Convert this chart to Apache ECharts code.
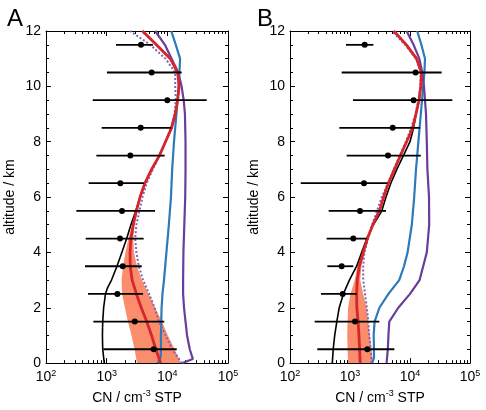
<!DOCTYPE html>
<html><head><meta charset="utf-8">
<script src="https://cdn.jsdelivr.net/npm/echarts@6/dist/echarts.min.js"></script>
<style>html,body{margin:0;padding:0;background:#fff}#c{width:486px;height:410px}</style>
</head><body><div id="c"></div>
<script>
// ---------- data ----------
const altStd = [0,0.5,1,1.5,2,2.5,3,3.5,4,4.5,5,5.5,6,6.5,7,7.5,8,8.5,9,9.5,10,10.5,11,11.5,12];

// Panel A
const redA = [7760,6460,5500,4570,3720,3090,2630,2450,2430,2510,2750,3090,3550,4270,5500,7410,9330,11750,13490,14790,15670,14790,11220,6610,3890];
const altBlackA = [0,0.5,1,1.5,2,2.5,2.7,3,3.5,4,4.5,5,5.5,6,6.5,7,7.5,8,8.5,9,9.5,10,10.5,11,11.5,12];
const blackA = [912,861,851,861,891,955,1023,1202,1479,1778,2138,2512,3020,3550,4270,5500,7410,9330,11750,13490,14790,15670,14790,11220,6610,3890];
const altBlueA = [0,0.2,0.5,1,1.5,2,2.5,3,4,5,6,7,8,9,10,10.5,11,11.5,12];
const blueA = [6920,7760,7850,7850,7940,8040,8320,8810,9660,10590,11480,12020,12880,14130,15310,15850,16220,13800,11610];
const altPurpleA = [0,0.15,0.5,1,1.5,2,2.5,3,4,5,6,7,8,9,9.5,10,10.5,11,11.5,12];
const purpleA = [17780,26300,23440,21130,19950,18840,18200,18200,18410,19050,19720,19950,19950,19500,18620,17180,15140,11750,9120,6310];
const dottedA = [17380,12020,9330,7240,6170,5010,3980,3390,3090,2950,3090,3470,3890,4570,5750,7410,9330,11480,13180,13800,13490,13490,9330,5250,2430];
const altBandA = [0,0.5,1,1.5,2,2.5,3,3.5,4,4.5,5,5.3];
const bandLowA = [3160,2880,2570,2240,2000,1800,1760,1860,2040,2290,2630,2950];
const bandHighA = [16600,13180,10230,8130,6310,4900,3800,3160,2820,2750,2880,2950];

const altPts = [11.5,10.5,9.5,8.5,7.5,6.5,5.5,4.5,3.5,2.5,1.5,0.5];
const ptMedA = [3680,5520,10000,3640,2455,1680,1790,1660,1840,1500,2900,5960];
const ptLowA = [1425,1010,589,828,676,505,316,451,439,492,603,881];
const ptHighA = [5800,17200,44500,11700,9040,4120,6270,4070,3780,3980,8910,14300];

// Panel B
const redB = [1480,1445,1410,1365,1300,1290,1320,1430,1660,1950,2400,3090,3630,4370,5500,6920,8790,11070,12590,14130,15140,15490,12880,8710,5370];
const blackB = [507,525,556,603,661,776,977,1288,1567,1905,2455,3390,3980,4790,6030,7760,10000,11480,12590,14130,15140,15490,12880,8710,5370];
const altBlueB = [0,0.2,0.5,1,1.5,2,2.5,3,3.5,4,5,6,7,8,9,10,10.5,11,11.5,12];
const blueB = [2340,2510,2510,2480,2570,3090,4370,6610,7940,9120,10720,11750,12590,13800,15140,16600,17380,17780,15490,13180];
const altPurpleB = [0,0.5,1,1.5,2,2.5,3,3.5,4,5,6,7,8,9,10,10.5,11,11.5,12];
const purpleB = [4070,4270,4370,4520,6380,10000,14450,16600,19050,20890,20750,19500,19050,18490,17100,16030,14320,11480,8790];
const dottedB = [2290,2210,2090,2020,1910,1780,1660,1660,1740,2000,2340,2820,3390,4270,5370,6760,8510,10470,12300,13800,14790,15140,12590,8320,5010];
const altBandB = [0,0.5,1,1.5,2,2.5,3,3.5,4,4.2];
const bandLowB = [930,910,900,910,930,1020,1200,1320,1560,1700];
const bandHighB = [2400,2290,2140,2000,1900,1660,1480,1550,1750,1700];

const ptMedB = [1758,12400,11500,5140,4300,1710,1468,1136,727,755,1212,1945];
const ptLowB = [858,727,1122,664,880,151,441,408,419,329,258,285];
const ptHighB = [2450,33700,50800,14700,15100,4190,3980,1897,1136,1291,3080,5480];

const majorTicks = [100,1000,10000,100000];
const minorTicks = [200,300,400,500,600,700,800,900,2000,3000,4000,5000,6000,7000,8000,9000,20000,30000,40000,50000,60000,70000,80000,90000];
const panelLabels = ['A','B'];

// ---------- colors ----------
const C = {red:'#d7262b', black:'#000', blue:'#2b7bba', purple:'#6a3d9a', dotted:'#8462b5', band:'#f98d6c'};
const FONT = 'Liberation Sans';

function pairs(xs, ys){ return xs.map((x,i)=>[x, ys[i]]); }

function xAxes(gi){
  const base = {type:'log', logBase:10, min:100, max:100000, gridIndex:gi,
    splitLine:{show:false}, minorSplitLine:{show:false}};
  const line = {show:true, onZero:false, lineStyle:{color:'#000', width:1}};
  return [
    Object.assign({}, base, {position:'bottom', axisLine:line,
      axisTick:{inside:true, length:5, customValues:majorTicks, lineStyle:{color:'#000'}},
      axisLabel:{customValues:majorTicks, color:'#000', fontSize:14, fontFamily:FONT, margin:6,
        formatter:v=>'10{s|'+Math.round(Math.log10(v))+'}',
        rich:{s:{fontSize:9, fontFamily:FONT, color:'#000', padding:[0,0,8,0]}}},
      name:'CN / cm{s|-3} STP', nameLocation:'middle', nameGap:25,
      nameTextStyle:{fontSize:14, color:'#000', fontFamily:FONT, verticalAlign:'top',
        rich:{s:{fontSize:9, fontFamily:FONT, color:'#000', padding:[0,0,8,0]}}}}),
    Object.assign({}, base, {position:'top', axisLine:line,
      axisTick:{inside:true, length:5, customValues:majorTicks, lineStyle:{color:'#000'}},
      axisLabel:{show:false}}),
    Object.assign({}, base, {position:'bottom', axisLine:{show:false, onZero:false},
      axisTick:{inside:true, length:3, customValues:minorTicks, lineStyle:{color:'#000'}},
      axisLabel:{show:false}}),
    Object.assign({}, base, {position:'top', axisLine:{show:false, onZero:false},
      axisTick:{inside:true, length:3, customValues:minorTicks, lineStyle:{color:'#000'}},
      axisLabel:{show:false}})
  ];
}
function yAxes(gi){
  const base = {type:'value', min:0, max:12, interval:2, gridIndex:gi,
    splitLine:{show:false}, minorSplitLine:{show:false},
    axisLine:{show:true, onZero:false, lineStyle:{color:'#000', width:1}},
    axisTick:{inside:true, length:5, lineStyle:{color:'#000'}},
    minorTick:{show:true, splitNumber:4, length:3, lineStyle:{color:'#000'}}};
  return [
    Object.assign({}, base, {position:'left',
      axisLabel:{color:'#000', fontSize:14, fontFamily:FONT, margin:5},
      name:'altitude / km', nameLocation:'middle', nameGap:29,
      nameTextStyle:{fontSize:14, color:'#000', fontFamily:FONT}}),
    Object.assign({}, base, {position:'right', axisLabel:{show:false}})
  ];
}

function lineSeries(xi, yi, xs, alts, color, width, z, dash){
  return {type:'line', xAxisIndex:xi, yAxisIndex:yi, data:pairs(xs, alts),
    showSymbol:false, symbol:'none', z:z, silent:true,
    lineStyle:{color:color, width:width, type: dash || 'solid'}};
}
function bandSeries(xi, yi, alts, low, high){
  return {type:'custom', xAxisIndex:xi, yAxisIndex:yi, z:1, silent:true,
    data: alts.map((a,i)=>[low[i], high[i], a]),
    encode:{x:[0,1], y:2},
    renderItem:(params, api)=>{
      if (params.dataIndex !== 0) return;
      const pts = [];
      for (let i=0;i<alts.length;i++) pts.push(api.coord([low[i], alts[i]]));
      for (let i=alts.length-1;i>=0;i--) pts.push(api.coord([high[i], alts[i]]));
      return {type:'polygon', shape:{points:pts}, style:{fill:C.band}};
    }};
}
function errSeries(xi, yi, med, low, high){
  return {type:'custom', xAxisIndex:xi, yAxisIndex:yi, z:10, silent:true,
    data: altPts.map((a,i)=>[med[i], low[i], high[i], a]),
    encode:{x:[0,1,2], y:3},
    renderItem:(params, api)=>{
      const y = api.value(3);
      const p1 = api.coord([api.value(1), y]);
      const p2 = api.coord([api.value(2), y]);
      const c = api.coord([api.value(0), y]);
      return {type:'group', children:[
        {type:'line', shape:{x1:p1[0], y1:p1[1], x2:p2[0], y2:p2[1]}, style:{stroke:'#000', lineWidth:1.8}},
        {type:'circle', shape:{cx:c[0], cy:c[1], r:3}, style:{fill:'#000'}}
      ]};
    }};
}

const chart = echarts.init(document.getElementById('c'), null, {renderer:'canvas'});
chart.setOption({
  animation:false,
  textStyle:{fontFamily:FONT},
  title:[
    {text:panelLabels[0], left:2, top:2, textStyle:{fontSize:24, fontWeight:'normal', color:'#000', fontFamily:FONT}},
    {text:panelLabels[1], left:252, top:2, textStyle:{fontSize:24, fontWeight:'normal', color:'#000', fontFamily:FONT}}
  ],
  grid:[
    {left:46, top:31, width:182, height:342},
    {left:290, top:31, width:180, height:342}
  ],
  xAxis: xAxes(0).concat(xAxes(1)),
  yAxis: yAxes(0).concat(yAxes(1)),
  series:[
    bandSeries(0,0, altBandA, bandLowA, bandHighA),
    lineSeries(0,0, blackA, altBlackA, C.black, 1.6, 2),
    lineSeries(0,0, blueA, altBlueA, C.blue, 2.2, 3),
    lineSeries(0,0, purpleA, altPurpleA, C.purple, 2.2, 3),
    lineSeries(0,0, dottedA, altStd, C.dotted, 2, 4, [2,2]),
    lineSeries(0,0, redA, altStd, C.red, 2.8, 5),
    errSeries(0,0, ptMedA, ptLowA, ptHighA),

    bandSeries(4,2, altBandB, bandLowB, bandHighB),
    lineSeries(4,2, blackB, altStd, C.black, 1.6, 2),
    lineSeries(4,2, blueB, altBlueB, C.blue, 2.2, 3),
    lineSeries(4,2, purpleB, altPurpleB, C.purple, 2.2, 3),
    lineSeries(4,2, dottedB, altStd, C.dotted, 2, 4, [2,2]),
    lineSeries(4,2, redB, altStd, C.red, 2.8, 5),
    errSeries(4,2, ptMedB, ptLowB, ptHighB)
  ]
});
</script></body></html>
